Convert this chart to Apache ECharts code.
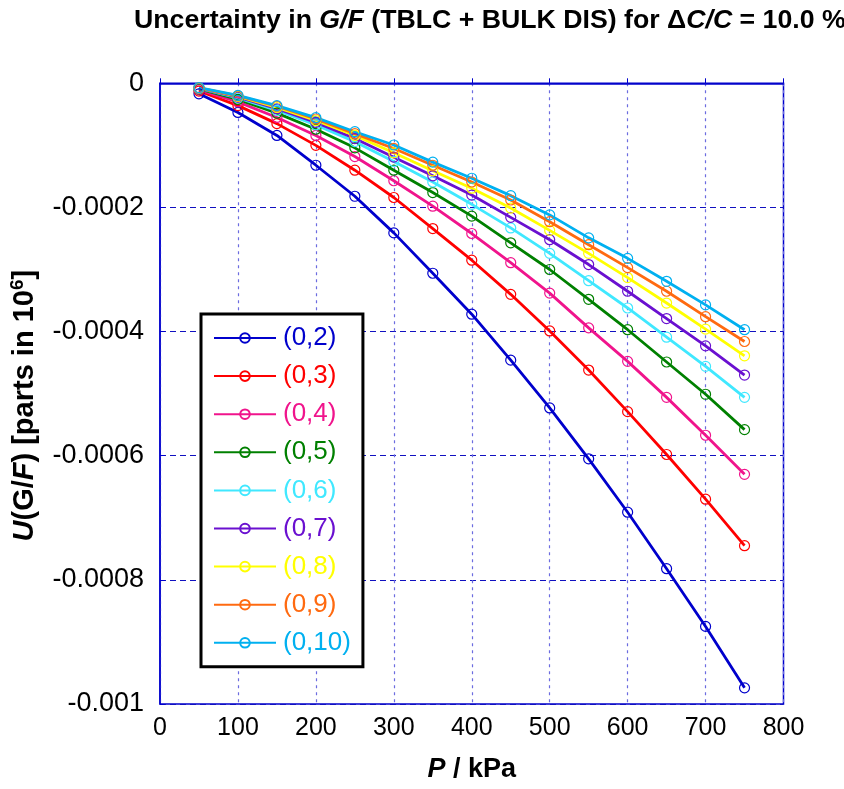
<!DOCTYPE html>
<html><head><meta charset="utf-8">
<script src="https://cdn.jsdelivr.net/npm/echarts@6/dist/echarts.min.js"></script>
<style>html,body{margin:0;padding:0;background:#fff}#c{width:844px;height:789px}</style>
</head><body><div id="c"></div>
<script>
const pressures = [50,100,150,200,250,300,350,400,450,500,550,600,650,700,750];
const seriesNames = ['(0,2)','(0,3)','(0,4)','(0,5)','(0,6)','(0,7)','(0,8)','(0,9)','(0,10)'];
const seriesColors = ['#0000CC','#FF0000','#F0148C','#008000','#40E8FF','#6A10D0','#FFFF00','#FF6A10','#00B0F0'];
const s02 = [-1.7e-5,-4.7e-5,-8.4e-5,-1.32e-4,-1.82e-4,-2.41e-4,-3.06e-4,-3.72e-4,-4.46e-4,-5.23e-4,-6.05e-4,-6.91e-4,-7.82e-4,-8.75e-4,-9.74e-4];
const s03 = [-1.25e-5,-3.6e-5,-6.5e-5,-1.0e-4,-1.40e-4,-1.84e-4,-2.34e-4,-2.85e-4,-3.40e-4,-3.99e-4,-4.62e-4,-5.29e-4,-5.98e-4,-6.70e-4,-7.45e-4];
const s04 = [-1.05e-5,-3.0e-5,-5.5e-5,-8.4e-5,-1.18e-4,-1.57e-4,-1.98e-4,-2.42e-4,-2.89e-4,-3.38e-4,-3.94e-4,-4.48e-4,-5.06e-4,-5.67e-4,-6.30e-4];
const s05 = [-9.2e-6,-2.6e-5,-4.8e-5,-7.4e-5,-1.04e-4,-1.40e-4,-1.76e-4,-2.14e-4,-2.57e-4,-3.00e-4,-3.48e-4,-3.97e-4,-4.49e-4,-5.01e-4,-5.58e-4];
const s06 = [-8.4e-6,-2.37e-5,-4.35e-5,-6.7e-5,-9.4e-5,-1.26e-4,-1.59e-4,-1.95e-4,-2.33e-4,-2.74e-4,-3.18e-4,-3.62e-4,-4.09e-4,-4.56e-4,-5.06e-4];
const s07 = [-7.9e-6,-2.23e-5,-4.1e-5,-6.3e-5,-8.9e-5,-1.19e-4,-1.49e-4,-1.80e-4,-2.16e-4,-2.52e-4,-2.92e-4,-3.35e-4,-3.79e-4,-4.23e-4,-4.70e-4];
const s08 = [-7.5e-6,-2.12e-5,-3.9e-5,-6.0e-5,-8.4e-5,-1.12e-4,-1.41e-4,-1.69e-4,-2.01e-4,-2.37e-4,-2.74e-4,-3.13e-4,-3.54e-4,-3.96e-4,-4.39e-4];
const s09 = [-7.2e-6,-2.03e-5,-3.7e-5,-5.75e-5,-8.1e-5,-1.05e-4,-1.32e-4,-1.59e-4,-1.88e-4,-2.23e-4,-2.60e-4,-2.97e-4,-3.35e-4,-3.76e-4,-4.16e-4];
const s10 = [-6.9e-6,-1.96e-5,-3.6e-5,-5.54e-5,-7.8e-5,-9.94e-5,-1.27e-4,-1.53e-4,-1.81e-4,-2.12e-4,-2.49e-4,-2.82e-4,-3.19e-4,-3.57e-4,-3.97e-4];
const allValues = [s02,s03,s04,s05,s06,s07,s08,s09,s10];
const xTicks = [0,100,200,300,400,500,600,700,800];
const yTickLabels = ['0','-0.0002','-0.0004','-0.0006','-0.0008','-0.001'];

const FONT = '"Liberation Sans", Arial, sans-serif';
const chart = echarts.init(document.getElementById('c'), null, {renderer:'canvas'});
const series = seriesNames.map((n,i)=>({
  name:n, type:'line',
  data: pressures.map((p,j)=>[p, allValues[i][j]]),
  symbol:'circle', symbolSize:10,
  lineStyle:{color:seriesColors[i], width:2.8},
  itemStyle:{color:'rgba(255,255,255,0)', borderColor:seriesColors[i], borderWidth:1.2},
  emphasis:{disabled:true}, animation:false
}));
chart.setOption({
  animation:false,
  title:{
    left:129, top:2,
    text:'{b|Uncertainty in }{bi|G/F}{b| (TBLC + BULK DIS) for }{b|Δ}{bi|C/C}{b| = 10.0 %}',
    textStyle:{
      rich:{
        b:{fontFamily:FONT, fontWeight:'bold', fontSize:26.7, color:'#000'},
        bi:{fontFamily:FONT, fontWeight:'bold', fontStyle:'italic', fontSize:26.7, color:'#000'}
      }
    }
  },
  grid:{left:159.5, right:60.5, top:83.3, bottom:85, show:true, borderColor:'#0000CC', borderWidth:1.5, backgroundColor:'transparent'},
  legend:{
    orient:'vertical', left:201, top:314,
    data: seriesNames.map((n,i)=>({name:n, textStyle:{color:seriesColors[i]}})),
    itemWidth:62, itemHeight:12, itemGap:12.1,
    padding:[11,12,11,12],
    borderColor:'#000', borderWidth:3, backgroundColor:'#fff',
    textStyle:{fontFamily:FONT, fontSize:26, padding:[0,0,0,2]},
    selectedMode:false
  },
  xAxis:{
    type:'value', min:0, max:800, interval:100,
    name:'{bi|P}{b| / kPa}', nameLocation:'middle', nameGap:52,
    nameTextStyle:{rich:{
      b:{fontFamily:FONT, fontWeight:'bold', fontSize:27, color:'#000'},
      bi:{fontFamily:FONT, fontWeight:'bold', fontStyle:'italic', fontSize:27, color:'#000'}}},
    axisLine:{show:true, lineStyle:{color:'#0000CC', width:1.5}},
    axisTick:{show:true, inside:true, length:5, lineStyle:{color:'#0000CC'}},
    axisLabel:{fontFamily:FONT, fontSize:25, color:'#000', margin:12},
    splitLine:{show:true, lineStyle:{color:'#6C6CE0', type:[3,4], width:1.2}}
  },
  yAxis:{
    type:'value', min:-0.001, max:0, interval:0.0002,
    name:'{bi|U}{b|(G/}{bi|F}{b|) [parts in 10}{sup|6}{b|]}', nameLocation:'middle', nameGap:118, nameRotate:90,
    nameTextStyle:{padding:[0,24,0,0], rich:{
      b:{fontFamily:FONT, fontWeight:'bold', fontSize:29, color:'#000', lineHeight:34},
      bi:{fontFamily:FONT, fontWeight:'bold', fontStyle:'italic', fontSize:29, color:'#000', lineHeight:34},
      sup:{fontFamily:FONT, fontWeight:'bold', fontSize:19, color:'#000', lineHeight:34, verticalAlign:'top'}}},
    axisLine:{show:true, lineStyle:{color:'#0000CC', width:1.5}},
    axisTick:{show:true, inside:true, length:5, lineStyle:{color:'#0000CC'}},
    axisLabel:{fontFamily:FONT, fontSize:27, color:'#000', margin:16,
      formatter:(v)=>{const k=Math.round(-v/0.0002); return yTickLabels[k]!==undefined?yTickLabels[k]:String(v);}},
    splitLine:{show:true, lineStyle:{color:'#1010C0', type:[6,4], width:1}}
  },
  series: series
});
</script></body></html>
